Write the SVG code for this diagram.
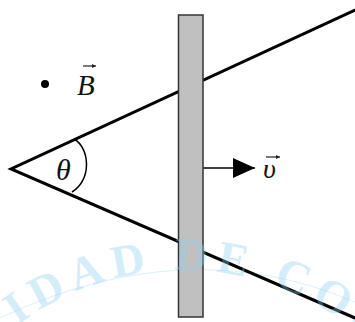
<svg xmlns="http://www.w3.org/2000/svg" width="355" height="322" viewBox="0 0 355 322">
  <style>
    .wm { font-family: "Liberation Serif", serif; font-weight: bold; font-size: 46px; fill: #8fd0ee; fill-opacity: 0.4; letter-spacing: 8px; }
    .wmline { fill: none; stroke: #dcf0fa; stroke-width: 1; }
    .ray { stroke: #000; stroke-width: 3; fill: none; stroke-linecap: round; }
    .bar { fill: #c0c0c0; stroke: #333; stroke-width: 1.5; }
    .lbl { font-family: "Liberation Serif", serif; font-style: italic; fill: #111; }
    .vec { stroke: #222; stroke-width: 1.2; fill: none; }
  </style>
  <defs>
    <path id="wmArc" d="M -55.2,407.5 A 275 275 0 0 1 421.2,407.5"/>
    <marker id="head" viewBox="0 0 22 20" refX="22" refY="10" markerWidth="22" markerHeight="20" markerUnits="userSpaceOnUse" orient="auto">
      <path d="M0,0 L22,10 L0,20 Z" fill="#000"/>
    </marker>
    <marker id="smallHead" viewBox="0 0 4 4" refX="4" refY="2" markerWidth="4" markerHeight="4" markerUnits="userSpaceOnUse" orient="auto">
      <path d="M0,0 L4,2 L0,4 Z" fill="#222"/>
    </marker>
  </defs>

  <g id="watermark-line">
    <path class="wmline" d="M 0,318 Q 187,230 355,302"/>
  </g>

  <g id="connectors">
    <polyline id="wedge" class="ray" points="355,10 11,169 355,318"/>
    <path id="angle-arc" d="M 74,139 C 90,148 92,180 72,192" fill="none" stroke="#000" stroke-width="1.5"/>
    <line id="velocity" x1="203" y1="168" x2="255" y2="168" stroke="#000" stroke-width="1.5" marker-end="url(#head)"/>
  </g>

  <g id="bar">
    <rect class="bar" x="178.5" y="15" width="24.5" height="302"/>
  </g>

  <g id="field">
    <circle cx="45" cy="84" r="4" fill="#000"/>
    <text class="lbl" x="77" y="95" font-size="29">B</text>
    <line class="vec" x1="83" y1="66" x2="96" y2="66" marker-end="url(#smallHead)"/>
  </g>

  <g id="theta">
    <text class="lbl" x="56" y="180" font-size="30">θ</text>
  </g>

  <g id="velocity-label">
    <text class="lbl" x="263" y="178" font-size="28">υ</text>
    <line class="vec" x1="266" y1="157" x2="280" y2="157" marker-end="url(#smallHead)"/>
  </g>

  <g id="watermark">
    <text class="wm"><textPath href="#wmArc" startOffset="110">IDAD DE COS</textPath></text>
  </g>
</svg>
